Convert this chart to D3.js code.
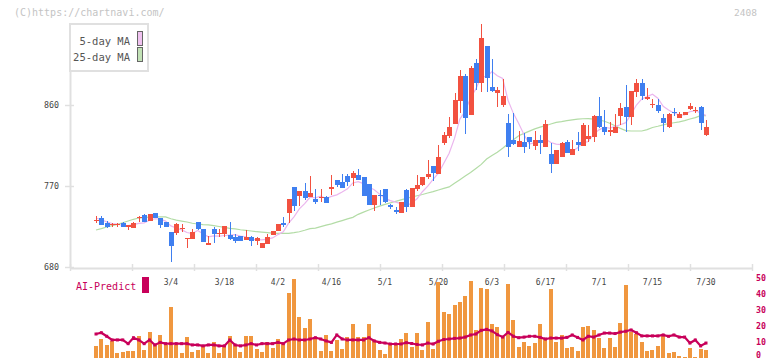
<!DOCTYPE html>
<html>
<head>
<meta charset="utf-8">
<script src="https://cdn.jsdelivr.net/npm/d3@7"></script>
<style>
  body { margin: 0; background: #fff; }
  svg { display: block; font-family: "DejaVu Sans Mono", monospace; }
</style>
</head>
<body>
<div class="canvas"></div>
<script>
// trading days shown (one candle each)
const dates = ("2/10 2/12 2/13 2/14 2/17 2/18 2/19 2/20 2/21 2/25 2/26 2/27 2/28 " +
  "3/3 3/4 3/5 3/6 3/7 3/10 3/11 3/12 3/13 3/14 3/17 3/18 3/19 3/21 3/24 3/25 3/26 3/27 3/28 3/31 " +
  "4/1 4/2 4/3 4/4 4/7 4/8 4/9 4/10 4/11 4/14 4/15 4/16 4/17 4/18 4/21 4/22 4/23 4/24 4/25 4/28 4/30 " +
  "5/1 5/7 5/8 5/9 5/12 5/13 5/14 5/15 5/16 5/19 5/20 5/21 5/22 5/23 5/26 5/27 5/28 5/29 5/30 " +
  "6/2 6/3 6/4 6/5 6/6 6/9 6/10 6/11 6/12 6/13 6/16 6/17 6/18 6/19 6/20 6/23 6/24 6/25 6/26 6/27 6/30 " +
  "7/1 7/2 7/3 7/4 7/7 7/8 7/9 7/10 7/11 7/14 7/15 7/16 7/17 7/18 7/22 7/23 7/24 7/25 7/28 7/29 7/30").split(" ");

const dateTicks = ["3/4", "3/18", "4/2", "4/16", "5/1", "5/20", "6/3", "6/17", "7/1", "7/15", "7/30"];
const priceTicks = [680, 770, 860];
const aiTicks = [0, 10, 20, 30, 40, 50];

const open = [732.0,734.4,729.2,727.0,726.8,728.9,724.8,723.7,734.4,737.8,731.4,739.6,734.4,729.6,718.9,718.1,723.0,711.2,711.5,730.0,
  722.2,704.8,722.2,717.1,716.7,715.6,713.3,714.4,710.0,713.3,709.2,701.5,705.9,715.9,720.4,728.9,740.4,768.9,758.9,764.4,
  758.1,755.6,756.7,758.1,767.0,776.3,774.4,781.5,779.3,782.2,780.0,772.2,748.9,760.3,766.3,748.9,743.3,740.4,765.6,747.0,
  766.7,770.8,780.0,792.2,783.3,818.1,825.6,838.9,864.8,892.2,848.9,906.7,884.8,925.6,880.0,873.7,860.3,840.0,821.1,813.7,
  818.9,824.4,814.8,821.1,813.7,805.6,794.4,802.6,818.9,804.8,818.9,814.4,822.2,824.8,848.3,835.2,830.0,829.2,848.1,858.1,
  847.0,874.8,884.8,866.3,860.5,860.3,845.2,835.2,852.4,845.9,848.9,855.6,854.2,858.1,826.3];
const high = [736.7,736.7,731.4,729.2,728.9,729.5,726.7,729.5,737.0,738.5,738.9,740.3,734.4,730.0,718.9,729.2,727.8,712.2,722.2,730.4,
  722.5,714.8,724.8,721.9,725.6,730.0,716.7,715.0,721.1,714.0,713.0,707.0,716.7,720.4,728.0,735.9,755.6,769.2,764.4,773.3,
  781.1,767.0,766.7,759.2,782.2,777.0,783.3,783.3,787.0,788.9,780.5,772.5,760.0,765.6,766.5,749.5,746.7,752.2,766.7,767.8,
  782.6,780.0,798.9,792.5,815.6,830.0,846.7,873.7,898.9,894.4,903.3,911.1,950.0,926.0,911.1,880.0,888.9,850.0,851.1,831.1,
  828.9,825.0,831.1,826.7,843.7,818.1,810.0,818.5,821.1,821.1,830.0,839.7,837.8,848.9,869.2,854.4,841.4,850.0,861.9,882.2,
  875.6,888.9,888.9,878.9,866.7,866.7,850.0,851.4,856.3,852.0,852.0,862.6,858.0,858.5,843.3];
const low = [729.2,726.3,723.5,724.1,724.4,724.0,721.4,723.5,730.3,730.0,730.7,734.0,723.7,724.0,685.9,715.6,718.5,701.5,711.0,721.5,
  708.0,704.5,707.0,713.7,713.0,710.5,707.0,708.5,709.5,703.7,704.4,701.0,705.5,715.5,720.0,724.8,728.5,742.2,748.1,754.4,
  758.0,749.7,751.9,751.0,760.0,768.6,768.0,770.0,770.3,776.5,759.0,749.0,742.6,748.9,751.5,744.1,739.3,740.0,741.4,746.8,
  764.8,770.5,777.8,775.9,783.0,815.6,823.7,838.5,851.4,828.1,848.5,876.7,874.8,874.8,874.4,858.1,858.1,802.6,816.0,813.0,
  807.0,811.5,810.0,805.9,813.5,784.8,794.0,802.5,806.8,804.5,809.2,814.0,819.2,819.2,835.0,826.7,825.6,829.0,837.8,830.3,
  837.8,869.0,866.0,866.0,857.0,851.4,830.3,835.0,847.8,845.5,848.5,855.0,851.0,832.2,826.0];
const close = [732.5,727.0,724.4,727.6,727.3,724.4,726.7,728.9,735.2,730.4,738.9,734.4,726.7,724.8,703.7,727.4,723.6,711.8,718.9,721.9,
  708.1,706.7,716.7,717.7,725.6,710.8,708.9,709.2,713.3,709.2,712.2,706.7,713.3,720.0,727.8,727.0,755.6,748.1,764.4,757.0,
  762.2,752.2,757.3,751.5,768.9,771.1,768.1,774.4,784.4,776.7,759.3,749.3,760.0,759.7,752.6,746.7,741.1,752.2,747.0,767.8,
  771.1,780.0,783.3,784.4,802.2,826.3,835.9,865.6,892.2,845.9,901.1,884.8,934.4,890.0,875.9,877.0,870.0,813.7,817.0,820.0,
  813.7,819.2,821.1,818.1,838.9,794.4,810.0,818.1,807.0,811.1,815.6,837.8,825.6,847.8,835.2,830.0,832.6,835.9,856.7,847.0,
  875.6,884.8,870.0,868.9,860.8,853.0,839.7,850.0,852.2,850.4,852.0,858.9,854.4,840.4,835.9];

const ma5 = [734.5,732.5,730.2,728.3,727.8,726.1,726.1,727.0,728.5,729.1,732.0,733.6,733.1,731.0,725.7,723.4,721.2,718.3,717.1,720.7,
  716.9,713.5,714.5,714.2,715.0,715.5,715.9,714.4,713.6,710.3,710.6,710.1,710.9,712.3,716.0,719.0,728.7,735.7,744.6,750.4,
  757.5,756.8,758.6,756.0,758.4,760.2,763.4,766.8,773.4,774.9,772.6,768.8,765.9,761.0,756.2,753.7,752.0,750.5,747.9,751.0,
  755.8,763.6,769.8,777.3,784.2,795.2,806.4,822.9,844.4,853.2,868.1,877.9,891.7,891.2,897.2,892.4,889.5,865.3,850.7,839.5,
  826.9,816.7,818.2,818.4,822.2,818.3,816.5,815.9,813.7,808.1,812.4,817.9,819.4,827.6,832.4,835.3,834.2,836.3,838.1,840.4,
  849.6,860.0,866.8,869.3,872.0,867.5,858.5,854.5,851.1,849.1,848.9,852.7,853.6,851.2,848.3];
const ma25 = [721.1,722.6,724.4,726.0,727.3,729.2,731.1,733.0,734.4,735.0,735.5,735.6,735.6,735.6,733.6,732.0,731.0,730.0,728.6,727.8,
  727.0,726.7,726.0,725.0,724.0,723.0,722.4,721.4,720.8,720.0,719.2,718.8,718.2,717.6,717.4,717.4,717.4,718.2,719.2,720.8,
  722.6,723.2,724.8,726.5,728.0,729.8,731.6,733.4,735.2,738.5,741.0,743.3,745.5,747.7,749.6,751.2,753.0,754.6,756.3,757.8,
  759.2,760.6,762.2,763.7,765.5,767.3,769.0,773.0,777.0,781.0,785.0,789.5,794.0,800.0,804.0,807.5,812.0,817.0,821.5,825.8,
  828.5,831.0,833.5,835.4,837.0,838.9,840.6,841.5,842.6,843.5,844.4,844.7,844.8,844.4,843.5,842.0,839.8,837.0,834.0,831.6,
  831.1,831.1,831.1,832.6,835.0,836.4,838.0,839.4,840.3,841.3,842.6,844.4,846.0,848.1,848.1];

const volume = [7.5,11.8,8.1,10.6,3.1,3.7,4.3,4.3,13.7,5.0,16.1,8.1,14.3,8.1,31.7,8.1,3.1,13.0,3.7,5.0,
  7.5,3.1,9.9,3.1,8.1,13.7,8.1,3.7,13.7,13.7,5.6,3.7,9.9,6.2,11.8,8.7,40.4,49.1,25.5,18.6,
  24.2,13.0,4.3,14.3,4.3,11.2,5.6,13.0,21.1,13.0,13.0,21.1,10.6,5.0,2.5,9.3,8.1,11.8,15.5,6.8,
  15.5,5.0,22.4,5.6,47.2,28.6,27.3,32.9,34.8,38.5,47.8,17.4,43.5,42.9,21.1,19.3,13.0,46.0,23.6,6.8,
  9.9,7.5,9.3,21.1,12.4,42.9,9.9,14.3,6.2,6.8,4.3,19.3,19.9,17.4,12.4,6.2,12.4,6.8,21.7,45.3,
  16.1,14.9,9.9,4.3,5.0,7.5,14.3,3.1,3.7,1.2,0.6,6.2,0.6,5.6,5.0];
const aiPredict = [14.9,15.7,13.5,11.2,11.2,11.2,8.9,12.6,11.2,8.9,11.2,8.1,9.7,8.9,8.9,8.9,8.9,8.9,8.1,8.1,
  7.5,8.1,8.1,7.5,7.5,11.2,8.1,7.5,8.1,8.9,8.1,8.9,8.9,8.9,9.7,8.9,11.2,11.8,11.2,11.2,
  11.8,12.6,11.8,10.6,9.7,14.3,11.8,11.2,11.2,11.2,11.2,12.6,10.6,9.7,9.3,8.7,8.7,8.7,9.5,9.0,
  8.4,8.1,9.3,8.7,10.4,11.5,11.8,12.2,12.4,13.0,14.3,14.9,17.2,17.8,16.8,14.5,13.0,15.9,13.5,12.6,
  13.0,13.5,13.5,12.8,11.8,12.4,12.4,12.4,12.8,14.3,12.8,11.2,13.5,13.0,14.3,15.5,15.5,15.2,16.1,16.6,
  17.4,15.7,13.7,13.7,13.7,13.7,14.3,13.5,14.3,13.0,13.0,9.3,11.2,7.5,9.3];

const UP = '#f25140', DOWN = '#3f7ff0', AXIS = '#e0e0e0';

const svg = d3.select('.canvas')
  .append('svg')
  .attr('width', 772)
  .attr('height', 361);

// scales
const x = d3.scalePoint().domain(dates).range([96, 706]);
const y = d3.scaleLinear().domain([680, 950]).range([267, 24]);
const frame = d3.scaleLinear().domain([0, 11]).range([70, 752]);
const yv = d3.scaleLinear().domain([0, 50]).range([358, 277.5]);

const data = dates.map((d, i) => ({
  date: d, o: open[i], h: high[i], l: low[i], c: close[i],
  m5: ma5[i], m25: ma25[i], v: volume[i], ai: aiPredict[i]
}));

// header texts
svg.append('text').attr('x', 14).attr('y', 16)
  .attr('font-size', 10).attr('fill', '#c4c4c4')
  .text('(C)https://chartnavi.com/');
svg.append('text').attr('x', 757).attr('y', 16).attr('text-anchor', 'end')
  .attr('font-size', 9.5).attr('fill', '#c4c4c4')
  .text('2408');

// price axes
const yAxisGroup = svg.append('g').attr('transform', 'translate(70,0)');
yAxisGroup.call(d3.axisLeft(y).tickValues(priceTicks).tickSizeOuter(0).tickSizeInner(5).tickPadding(6));
yAxisGroup.select('.domain').attr('stroke', AXIS).attr('stroke-width', 2);
yAxisGroup.selectAll('.tick line').attr('stroke', AXIS).attr('stroke-width', 1.5).attr('x1', 4);
yAxisGroup.selectAll('.tick text')
  .attr('font-family', '"DejaVu Sans Mono", monospace')
  .attr('font-size', 8.3).attr('fill', '#444');

const xAxisGroup = svg.append('g').attr('transform', 'translate(0,268)');
xAxisGroup.call(d3.axisBottom(frame).ticks(11).tickSizeOuter(0).tickSizeInner(3).tickFormat(''));
xAxisGroup.select('.domain').attr('stroke', AXIS).attr('stroke-width', 2);
xAxisGroup.selectAll('.tick line').attr('stroke', AXIS).attr('stroke-width', 1.5).attr('y1', -4);

// moving averages
const ma5Line = d3.line().x(d => x(d.date)).y(d => y(d.m5));
const ma25Line = d3.line().x(d => x(d.date)).y(d => y(d.m25));
svg.append('path').datum(data).attr('d', ma25Line)
  .attr('fill', 'none').attr('stroke', '#b3dca6').attr('stroke-width', 1.2);
svg.append('path').datum(data).attr('d', ma5Line)
  .attr('fill', 'none').attr('stroke', '#ebb6ee').attr('stroke-width', 1.2);

// candles
const candles = svg.append('g').attr('shape-rendering', 'crispEdges');
candles.selectAll('line')
  .data(data)
  .enter()
  .append('line')
  .attr('x1', d => Math.round(x(d.date)) + 0.5)
  .attr('x2', d => Math.round(x(d.date)) + 0.5)
  .attr('y1', d => y(d.h))
  .attr('y2', d => y(d.l))
  .attr('stroke', d => d.c >= d.o ? UP : DOWN)
  .attr('stroke-width', 1);
candles.selectAll('rect')
  .data(data)
  .enter()
  .append('rect')
  .attr('x', d => Math.round(x(d.date)) - 2)
  .attr('width', 5)
  .attr('y', d => y(Math.max(d.o, d.c)))
  .attr('height', d => Math.max(1, y(Math.min(d.o, d.c)) - y(Math.max(d.o, d.c))))
  .attr('fill', d => d.c >= d.o ? UP : DOWN);

// legend
const legend = svg.append('g');
legend.append('rect').attr('x', 70).attr('y', 24).attr('width', 78).attr('height', 47)
  .attr('fill', '#fff').attr('stroke', AXIS).attr('stroke-width', 2);
const legendItems = [['5-day MA', '#f0c2f0'], ['25-day MA', '#c2e2b6']];
legendItems.forEach((item, i) => {
  legend.append('text').attr('x', 130).attr('y', 45 + i * 16).attr('text-anchor', 'end')
    .attr('font-size', 10.5).attr('fill', '#555').text(item[0]);
  legend.append('rect').attr('x', 137.5).attr('y', 31.5 + i * 16).attr('width', 5).attr('height', 14)
    .attr('fill', item[1]).attr('stroke', '#666').attr('stroke-width', 1);
});

// date labels
svg.append('g').selectAll('text')
  .data(dateTicks)
  .enter()
  .append('text')
  .attr('x', d => x(d))
  .attr('y', 285)
  .attr('text-anchor', 'middle')
  .attr('font-size', 8)
  .attr('fill', '#444')
  .text(d => d);

// volume bars
svg.append('g').attr('shape-rendering', 'crispEdges').selectAll('rect')
  .data(data)
  .enter()
  .append('rect')
  .attr('x', d => Math.round(x(d.date)) - 2)
  .attr('width', 4)
  .attr('y', d => yv(d.v))
  .attr('height', d => yv(0) - yv(d.v))
  .attr('fill', '#f0973f');

// AI-Predict line
const aiLine = d3.line().x(d => x(d.date)).y(d => yv(d.ai));
svg.append('path').datum(data).attr('d', aiLine)
  .attr('fill', 'none').attr('stroke', '#c8005a').attr('stroke-width', 2.2);
svg.append('g').selectAll('rect')
  .data(data)
  .enter()
  .append('rect')
  .attr('x', d => x(d.date) - 1.5)
  .attr('y', d => yv(d.ai) - 1.5)
  .attr('width', 3).attr('height', 3)
  .attr('fill', '#c8005a');

// right axis for AI-Predict
const aiAxis = svg.append('g').attr('transform', 'translate(752,0)');
aiAxis.call(d3.axisRight(yv).tickValues(aiTicks).tickSize(0).tickPadding(4));
aiAxis.select('.domain').remove();
aiAxis.selectAll('.tick text')
  .attr('dy', d => d === 0 ? '-0.05em' : '0.3em')
  .attr('font-family', '"DejaVu Sans Mono", monospace')
  .attr('font-size', 8.3).attr('font-weight', 'bold').attr('fill', '#c8005a');

svg.append('text').attr('x', 76).attr('y', 290)
  .attr('font-size', 10).attr('fill', '#c8005a').text('AI-Predict');
svg.append('rect').attr('x', 142).attr('y', 277).attr('width', 7).attr('height', 16)
  .attr('fill', '#c8005a');
</script>
</body>
</html>
